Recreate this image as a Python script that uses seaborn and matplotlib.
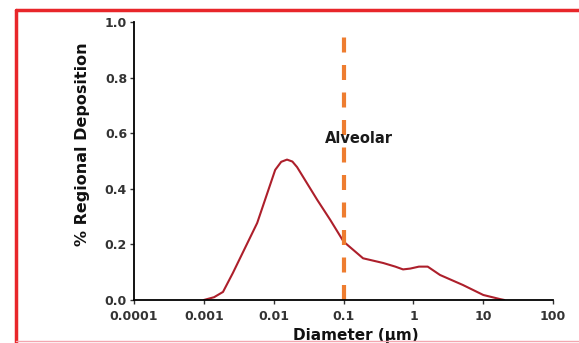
import matplotlib
matplotlib.use("Agg")
import matplotlib.pyplot as plt
import seaborn as sns
import pandas as pd
from matplotlib.lines import Line2D

# curve
diameter = [0.001, 0.0014, 0.00188, 0.0026, 0.0058, 0.0105, 0.0128, 0.0155, 0.0185,
            0.0216, 0.042, 0.0645, 0.1, 0.19, 0.37, 0.55, 0.71, 0.9, 1.2, 1.6,
            2.4, 5.1, 10, 17.5, 20]
deposition = [0.0, 0.01, 0.029, 0.097, 0.277, 0.468, 0.497, 0.505, 0.498,
              0.478, 0.36, 0.288, 0.21, 0.15, 0.133, 0.12, 0.11, 0.113, 0.12, 0.12,
              0.09, 0.054, 0.018, 0.003, 0.0]
x_ticks = [0.0001, 0.001, 0.01, 0.1, 1, 10, 100]
x_labels = ["0.0001", "0.001", "0.01", "0.1", "1", "10", "100"]
y_ticks = [0.0, 0.2, 0.4, 0.6, 0.8, 1.0]
boundary = 0.1

sns.set_style("ticks")
plt.rcParams["font.family"] = ["DejaVu Sans"]

fig = plt.figure(figsize=(5.79, 3.43), dpi=100)
ax = fig.add_axes([0.2314, 0.1254, 0.724, 0.8105])

df = pd.DataFrame({"Diameter": diameter, "Deposition": deposition})
sns.lineplot(data=df, x="Diameter", y="Deposition", ax=ax, color="#ad1f2b", linewidth=1.5)

ax.axvline(boundary, ymin=0, ymax=0.96, color="#ee7d30", linestyle=(0, (3.6, 3.0)), linewidth=3.0)
ax.text(0.054, 0.58, "Alveolar", fontsize=10.5, fontweight="bold", color="#1a1a1a", va="center")

ax.set_xscale("log")
ax.set_xlim(0.0001, 100)
ax.set_ylim(0, 1.0)
ax.set_xticks(x_ticks)
ax.set_xticklabels(x_labels)
ax.minorticks_off()
ax.set_yticks(y_ticks)
ax.set_yticklabels([f"{v:.1f}" for v in y_ticks])
ax.tick_params(axis="both", labelsize=9, length=3, width=1, colors="#333333", pad=2)
ax.tick_params(axis="x", pad=4)
for lab in ax.get_xticklabels() + ax.get_yticklabels():
    lab.set_fontweight("bold")
for s in ["left", "bottom"]:
    ax.spines[s].set_linewidth(1.3)
    ax.spines[s].set_color("black")
sns.despine(ax=ax)

ax.set_xlabel("Diameter (µm)", fontsize=11, fontweight="bold", color="#111111")
ax.xaxis.set_label_coords(0.53, -0.1)
ax.set_ylabel("% Regional Deposition", fontsize=11.5, fontweight="bold", color="#111111")
ax.yaxis.set_label_coords(-0.105, 0.56)

# red frame around the panel
fig.add_artist(Line2D([16 / 579, 16 / 579], [0, 1 - 10 / 343], color="#e8262a", linewidth=2.5))
fig.add_artist(Line2D([16 / 579, 1], [1 - 10 / 343, 1 - 10 / 343], color="#e8262a", linewidth=2.5))
fig.add_artist(Line2D([16 / 579, 1], [2 / 343, 2 / 343], color="#f4a6b0", linewidth=1))

fig.savefig("out.png", dpi=100)
